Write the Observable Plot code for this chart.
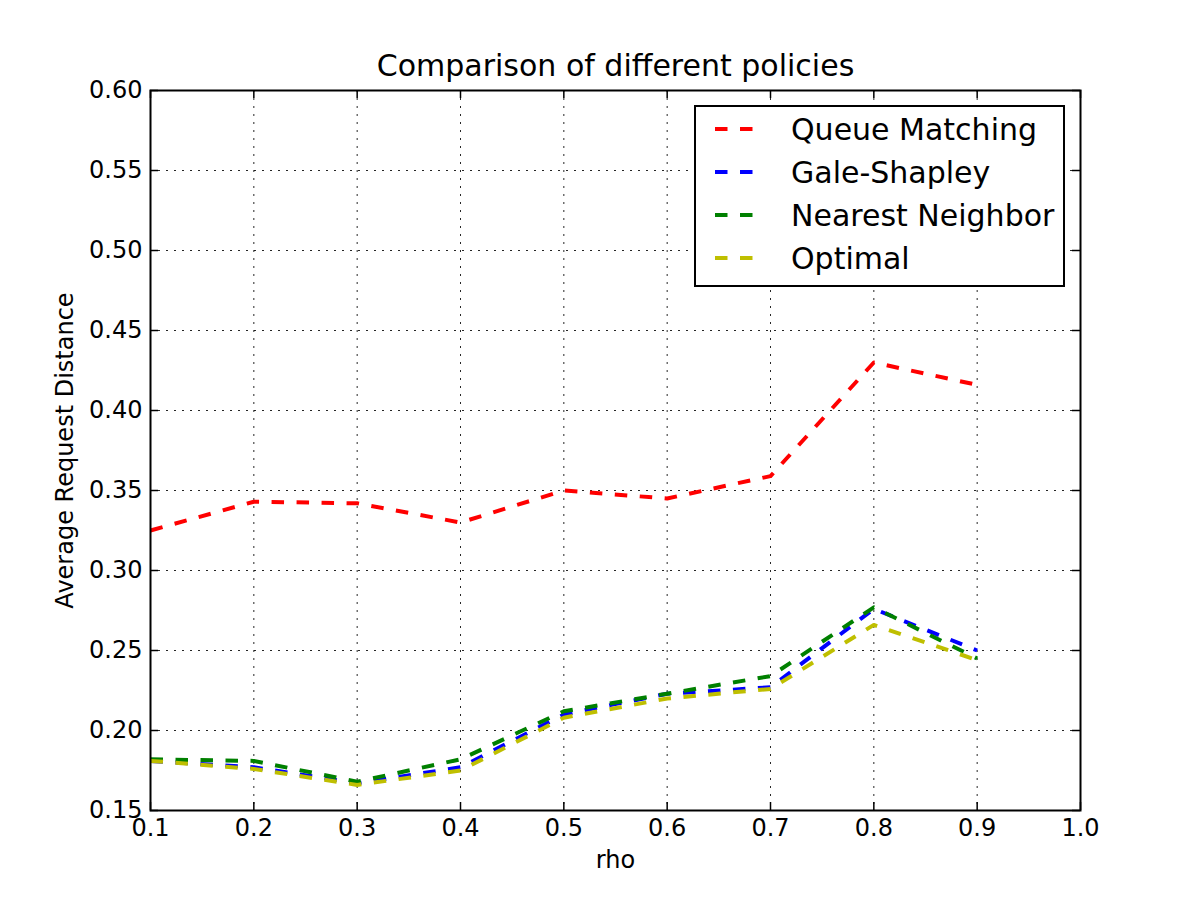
<!DOCTYPE html>
<html>
<head>
<meta charset="utf-8">
<script src="https://cdn.jsdelivr.net/npm/d3@7"></script>
<script src="https://cdn.jsdelivr.net/npm/@observablehq/plot@0.6"></script>
<style>
  html, body { margin: 0; padding: 0; background: #fff; }
  #chart { position: relative; width: 1200px; height: 900px; font-family: "DejaVu Sans", sans-serif; }
  #legend { position: absolute; left: 694px; top: 105px; }
</style>
</head>
<body>
<div id="chart"></div>
<script>
// Load factor on the x axis
const rho = [0.1, 0.2, 0.3, 0.4, 0.5, 0.6, 0.7, 0.8, 0.9];

// Average request distance per policy
const queueMatching   = [0.325, 0.343, 0.342, 0.330, 0.350, 0.345, 0.359, 0.430, 0.416];
const galeShapley     = [0.181, 0.177, 0.167, 0.177, 0.210, 0.223, 0.227, 0.276, 0.250];
const nearestNeighbor = [0.182, 0.181, 0.168, 0.182, 0.212, 0.223, 0.234, 0.277, 0.245];
const optimal         = [0.181, 0.176, 0.166, 0.175, 0.208, 0.220, 0.226, 0.266, 0.244];

const seriesNames  = ["Queue Matching", "Gale-Shapley", "Nearest Neighbor", "Optimal"];
const seriesColors = ["#ff0000", "#0000ff", "#008000", "#bfbf00"];
const seriesValues = [queueMatching, galeShapley, nearestNeighbor, optimal];

// Tick values
const xTicks = [0.1, 0.2, 0.3, 0.4, 0.5, 0.6, 0.7, 0.8, 0.9, 1.0];
const yTicks = [0.15, 0.20, 0.25, 0.30, 0.35, 0.40, 0.45, 0.50, 0.55, 0.60];

const rows = seriesNames.flatMap((name, i) =>
  rho.map((r, j) => ({series: name, rho: r, value: seriesValues[i][j]}))
);

const W = 1200, H = 900;
const mL = 150, mR = 120, mT = 90, mB = 90;
const innerW = W - mL - mR, innerH = H - mT - mB;
const tickLen = 8;
const dash = "12.5,12.5";
const lineWidth = 4;

const plot = Plot.plot({
  width: W,
  height: H,
  marginLeft: mL,
  marginRight: mR,
  marginTop: mT,
  marginBottom: mB,
  style: {fontFamily: "DejaVu Sans, sans-serif", fontSize: "24px", color: "#000", background: "#fff"},
  x: {domain: [0.1, 1.0]},
  y: {domain: [0.15, 0.60]},
  color: {domain: seriesNames, range: seriesColors},
  marks: [
    Plot.gridX(xTicks, {stroke: "#000", strokeOpacity: 0.85, strokeWidth: 1, strokeDasharray: "2,6"}),
    Plot.gridY(yTicks, {stroke: "#000", strokeOpacity: 0.85, strokeWidth: 1, strokeDasharray: "2,6"}),
    // inward ticks on all four sides
    Plot.tickX(xTicks, {x: d => d, stroke: "#000", strokeWidth: 1.5, insetTop: innerH - tickLen}),
    Plot.tickX(xTicks, {x: d => d, stroke: "#000", strokeWidth: 1.5, insetBottom: innerH - tickLen}),
    Plot.tickY(yTicks, {y: d => d, stroke: "#000", strokeWidth: 1.5, insetRight: innerW - tickLen}),
    Plot.tickY(yTicks, {y: d => d, stroke: "#000", strokeWidth: 1.5, insetLeft: innerW - tickLen}),
    // tick labels
    Plot.axisX(xTicks, {tickSize: 0, tickPadding: 8, tickFormat: d3.format(".1f"), fontSize: 24, label: null}),
    Plot.axisY(yTicks, {tickSize: 0, tickPadding: 8, tickFormat: d3.format(".2f"), fontSize: 24, label: null}),
    Plot.line(rows, {
      x: "rho", y: "value", z: "series", stroke: "series",
      strokeWidth: lineWidth, strokeDasharray: dash, strokeLinecap: "butt", strokeLinejoin: "round"
    }),
    Plot.frame({stroke: "#000", strokeWidth: 2}),
    // title and axis labels
    Plot.text(["Comparison of different policies"], {frameAnchor: "top", dy: -24, lineAnchor: "middle", fontSize: 30, fill: "#000"}),
    Plot.text(["rho"], {frameAnchor: "bottom", dy: 50, lineAnchor: "middle", fontSize: 24, fill: "#000"}),
    Plot.text(["Average Request Distance"], {frameAnchor: "left", dx: -85, rotate: -90, textAnchor: "middle", lineAnchor: "middle", fontSize: 24, fill: "#000"})
  ]
});

const chart = document.getElementById("chart");
chart.appendChild(plot);

// Legend box inside the plot area
const lgW = 371, lgH = 182;
const legend = d3.create("svg")
  .attr("id", "legend")
  .attr("width", lgW)
  .attr("height", lgH)
  .style("font-family", "DejaVu Sans, sans-serif");
legend.append("rect")
  .attr("x", 1).attr("y", 1)
  .attr("width", lgW - 2).attr("height", lgH - 2)
  .attr("fill", "#fff").attr("stroke", "#000").attr("stroke-width", 2);
const items = legend.selectAll("g.item")
  .data(seriesNames)
  .join("g")
  .attr("transform", (d, i) => `translate(0, ${24 + i * 43})`);
items.append("line")
  .attr("x1", 21).attr("x2", 59)
  .attr("y1", 0).attr("y2", 0)
  .attr("stroke", (d, i) => seriesColors[i])
  .attr("stroke-width", lineWidth)
  .attr("stroke-dasharray", dash);
items.append("text")
  .attr("x", 97).attr("y", 11)
  .attr("font-size", 30)
  .attr("fill", "#000")
  .text(d => d);
chart.appendChild(legend.node());
</script>
</body>
</html>
